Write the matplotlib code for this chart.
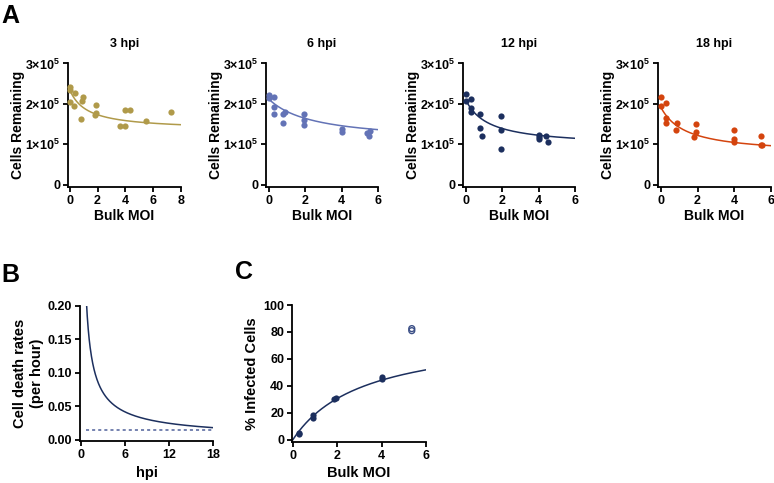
import numpy as np
import matplotlib
matplotlib.use('Agg')
import matplotlib.pyplot as plt
from matplotlib.ticker import FuncFormatter

plt.rcParams['font.family'] = ['Liberation Sans', 'DejaVu Sans']
plt.rcParams['font.weight'] = 'bold'
plt.rcParams['mathtext.fontset'] = 'custom'
plt.rcParams['mathtext.rm'] = 'Liberation Sans:bold'
plt.rcParams['mathtext.bf'] = 'Liberation Sans:bold'

# --- Panel A data (x: bulk MOI, y: cells remaining in units of 1e5) ---
hpi_labels = ['3 hpi', '6 hpi', '12 hpi', '18 hpi']
colors = ['#B09A4A', '#6373B6', '#1C2F5E', '#D4440E']
x_max = [8, 6, 6, 6]

moi_3 = [0.0, 0.02, 0.03, 0.38, 0.34, 0.87, 0.94, 0.84, 1.92, 1.87, 1.85, 3.65, 3.94, 3.94, 4.33, 5.5, 7.28]
cells_3 = [2.41, 2.34, 2.04, 2.26, 1.95, 2.08, 2.16, 1.62, 1.98, 1.78, 1.72, 1.44, 1.44, 1.84, 1.85, 1.57, 1.81]

moi_6 = [0.0, 0.0, 0.29, 0.29, 0.29, 0.81, 0.79, 0.9, 1.91, 1.91, 1.91, 4.02, 4.02, 5.39, 5.49, 5.54]
cells_6 = [2.21, 2.15, 2.17, 1.93, 1.76, 1.76, 1.52, 1.80, 1.76, 1.59, 1.47, 1.38, 1.31, 1.27, 1.20, 1.32]

moi_12 = [0.0, 0.0, 0.31, 0.31, 0.31, 0.81, 0.81, 0.92, 1.91, 1.91, 1.91, 4.02, 4.02, 4.02, 4.40, 4.50]
cells_12 = [2.25, 2.07, 2.12, 1.90, 1.79, 1.74, 1.39, 1.21, 1.69, 1.36, 0.88, 1.24, 1.17, 1.12, 1.20, 1.05]

moi_18 = [0.04, 0.04, 0.31, 0.31, 0.31, 0.82, 0.91, 1.83, 1.92, 1.92, 4.0, 4.0, 4.0, 5.43, 5.43, 5.5]
cells_18 = [2.17, 1.94, 2.02, 1.64, 1.53, 1.36, 1.53, 1.18, 1.51, 1.31, 1.35, 1.14, 1.06, 1.20, 0.99, 0.99]

# fitted curves: y = ymin + span * K / (K + x)
fit_ymin = [1.35, 1.05, 0.95, 0.75]
fit_span = [1.00, 1.07, 1.15, 1.17]
fit_k = [1.23, 2.46, 1.24, 1.34]

# --- Panel B: cell death rate = c * t^-p, baseline dashed ---
rate_c = 0.163
rate_p = 0.763
baseline_rate = 0.015

# --- Panel C data ---
moi_c = [0.3, 0.3, 0.9, 0.9, 1.84, 1.93, 4.0, 4.0]
infected_c = [4.5, 5.2, 16.5, 18.5, 30.2, 31.0, 45.0, 46.5]
moi_c_open = [5.36, 5.36]
infected_c_open = [81.0, 82.5]
sat_vmax = 79.6
sat_k = 3.19

W, H = 774, 483
fig = plt.figure(figsize=(W / 100, H / 100), dpi=100)


def px_axes(left, right, top, bottom):
    return fig.add_axes([left / W, 1 - bottom / H, (right - left) / W, (bottom - top) / H])


def style(ax):
    for s in ['top', 'right']:
        ax.spines[s].set_visible(False)
    for s in ['left', 'bottom']:
        ax.spines[s].set_linewidth(1.3)
    ax.tick_params(width=1.3, length=3.5, labelsize=9, pad=2)
    for lab in ax.get_xticklabels() + ax.get_yticklabels():
        lab.set_fontweight('bold')


def sci_fmt(v, pos):
    n = int(round(v))
    if n == 0:
        return '0'
    return r'$%d{\times}10^{5}$' % n


a_pos = [(68, 181), (266, 378), (463, 575), (658, 771)]
datasets = [(moi_3, cells_3), (moi_6, cells_6), (moi_12, cells_12), (moi_18, cells_18)]

for i in range(4):
    left, right = a_pos[i]
    ax = px_axes(left, right, 63.5, 187)
    xs, ys = datasets[i]
    ax.scatter(xs, ys, s=20, color=colors[i], clip_on=False, zorder=3, linewidths=0)
    xx = np.linspace(0.03, x_max[i], 300)
    yy = fit_ymin[i] + fit_span[i] * fit_k[i] / (fit_k[i] + xx)
    ax.plot(xx, yy, color=colors[i], lw=1.1)
    off = 0.15 * x_max[i] / 6 if i > 0 else 0.12
    ax.set_xlim(-off, x_max[i])
    ax.set_ylim(-0.06, 3)
    ax.set_xticks(np.arange(0, x_max[i] + 1, 2))
    ax.set_yticks([0, 1, 2, 3])
    ax.yaxis.set_major_formatter(FuncFormatter(sci_fmt))
    style(ax)
    ax.set_title(hpi_labels[i], fontsize=9, fontweight='bold', pad=12)
    ax.set_xlabel('Bulk MOI', fontsize=10, fontweight='bold', labelpad=1.5)
    ax.set_ylabel('Cells Remaining', fontsize=10, fontweight='bold', labelpad=0)

# Panel B
axb = px_axes(80, 213, 306, 441)
t = np.linspace(0.5, 18, 400)
axb.plot(t, rate_c * t ** (-rate_p), color='#1C2F5E', lw=1.1)
axb.plot([0.7, 18], [baseline_rate, baseline_rate], color='#4F609A', lw=1.1,
         linestyle=(0, (2, 2)))
axb.set_xlim(-0.14, 18)
axb.set_ylim(-0.002, 0.2)
axb.set_xticks([0, 6, 12, 18])
axb.set_yticks([0, 0.05, 0.10, 0.15, 0.20])
axb.yaxis.set_major_formatter(FuncFormatter(lambda v, p: '%.2f' % v))
style(axb)
axb.set_xlabel('hpi', fontsize=10.5, fontweight='bold', labelpad=4)
axb.set_ylabel('Cell death rates\n(per hour)', fontsize=10.5, fontweight='bold', labelpad=3)

# Panel C
axc = px_axes(292, 426, 305, 442)
xc = np.linspace(0, 6, 300)
axc.plot(xc, sat_vmax * xc / (sat_k + xc), color='#1C2F5E', lw=1.1)
axc.scatter(moi_c, infected_c, s=20, color='#1C2F5E', clip_on=False, zorder=3, linewidths=0)
axc.scatter(moi_c_open, infected_c_open, s=18, facecolors='none', edgecolors='#3B4F86',
            linewidths=1.0, zorder=3)
axc.set_xlim(-0.03, 6)
axc.set_ylim(-1.5, 100)
axc.set_xticks([0, 2, 4, 6])
axc.set_yticks([0, 20, 40, 60, 80, 100])
style(axc)
axc.set_xlabel('Bulk MOI', fontsize=10.5, fontweight='bold', labelpad=3)
axc.set_ylabel('% Infected Cells', fontsize=10.5, fontweight='bold', labelpad=3)

# panel letters
fig.text(1 / W, 1 - 23 / H, 'A', fontsize=18, fontweight='bold')
fig.text(1 / W, 1 - 282 / H, 'B', fontsize=18, fontweight='bold')
fig.text(235 / W, 1 - 279 / H, 'C', fontsize=18, fontweight='bold')

fig.savefig('out.png', dpi=100)
